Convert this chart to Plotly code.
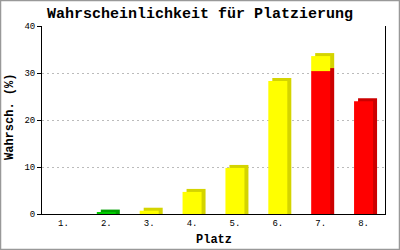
import plotly.graph_objects as go

places = ["1.", "2.", "3.", "4.", "5.", "6.", "7.", "8."]
green = [0, 0.3, 0, 0, 0, 0, 0, 0]
red = [0, 0, 0, 0, 0, 0, 30.4, 24.0]
yellow = [0, 0, 0.7, 4.7, 9.8, 28.3, 3.2, 0]
y_ticks = [0, 10, 20, 30, 40]

series = [
    ("green", green, "#00CC00", "#00A000"),
    ("red", red, "#FF0000", "#CC0000"),
    ("yellow", yellow, "#FFFF00", "#D4D400"),
]

L, R, T, B = 42, 15, 26, 36
W, H = 400, 250
pw, ph = W - L - R, H - T - B
cat_px = pw / len(places)
unit_px = ph / 40.0
bw = 19 / cat_px
dx = 4 / cat_px
dy = 3 / unit_px

fig = go.Figure()
cum = [0.0] * len(places)
shadow_traces = []
front_traces = []
for name, vals, col, dark in series:
    base_f = list(cum)
    base_s = [(c + dy if c > 0 else 0.0) for c in cum]
    h_s = [(v + dy - (bs - c)) if v > 0 else 0 for v, c, bs in zip(vals, cum, base_s)]
    shadow_traces.append(go.Bar(x=places, y=h_s, base=base_s, width=bw, offset=-bw / 2 + dx,
                                marker=dict(color=dark, line=dict(width=0)), hoverinfo="skip",
                                showlegend=False))
    front_traces.append(go.Bar(x=places, y=vals, base=base_f, width=bw, offset=-bw / 2,
                               marker=dict(color=col, line=dict(width=0)), name=name,
                               showlegend=False))
    cum = [c + v for c, v in zip(cum, vals)]

for t in shadow_traces + front_traces:
    fig.add_trace(t)

font = "Liberation Mono, DejaVu Sans Mono, monospace"
fig.update_layout(
    width=W, height=H, barmode="overlay",
    margin=dict(l=L, r=R, t=T, b=B, pad=0, autoexpand=False),
    paper_bgcolor="white", plot_bgcolor="white",
    title=dict(text="<b>Wahrscheinlichkeit für Platzierung</b>", x=0.5, xanchor="center",
               y=1 - 13 / H, yanchor="middle", font=dict(family=font, size=15, color="black")),
    xaxis=dict(range=[-0.5, 7.5], showline=True, linecolor="black", linewidth=1,
               ticks="", showgrid=False, automargin=False,
               tickfont=dict(family=font, size=9, color="black")),
    yaxis=dict(range=[0, 40], tickvals=y_ticks, showline=True, linecolor="black", linewidth=1,
               mirror=True, ticks="outside", ticklen=4, tickcolor="black", automargin=False,
               showgrid=True, gridcolor="#BBBBBB", griddash="2px,3px", gridwidth=1,
               tickfont=dict(family=font, size=9, color="black"), zeroline=False),
    annotations=[
        dict(text="<b>Platz</b>", xref="paper", yref="paper", x=0.5, y=0, xanchor="center",
             yanchor="middle", yshift=-26, showarrow=False,
             font=dict(family=font, size=12, color="black")),
        dict(text="<b>Wahrsch. (%)</b>", xref="paper", yref="paper", x=0, y=0.5,
             xanchor="center", yanchor="middle", xshift=-32, yshift=3, textangle=-90,
             showarrow=False, font=dict(family=font, size=12, color="black")),
    ],
    shapes=[dict(type="rect", xref="paper", yref="paper",
                 x0=(0.5 - L) / pw, x1=(W - 0.5 - L) / pw,
                 y0=-(B - 0.5) / ph, y1=1 + (T - 0.5) / ph,
                 line=dict(color="#999999", width=1.5), layer="above")],
)

fig.write_html("out.html")
